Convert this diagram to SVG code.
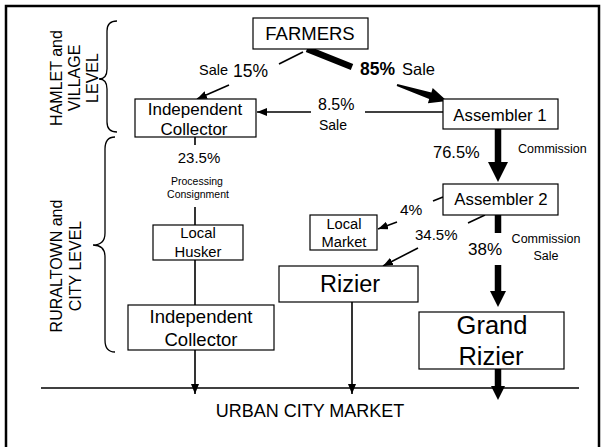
<svg xmlns="http://www.w3.org/2000/svg" width="604" height="447" viewBox="0 0 604 447">
<style>
text{font-family:"Liberation Sans",Arial,sans-serif;fill:#000}
.box{fill:#fff;stroke:#000;stroke-width:1.2}
.thin{stroke:#000;stroke-width:1.6;fill:none}
.thick{stroke:#000;stroke-width:6.5;fill:none}
.brace{stroke:#000;stroke-width:1.3;fill:none}
.c{text-anchor:middle}
</style>
<defs>
<marker id="ah" viewBox="0 0 10 8" refX="10" refY="4" markerWidth="10" markerHeight="8" markerUnits="userSpaceOnUse" orient="auto">
<path d="M0,0 L10,4 L0,8 z" fill="#000"/>
</marker>
</defs>
<rect x="6" y="6" width="593" height="443" fill="#fff" stroke="#000" stroke-width="2.5"/>

<g id="levels">
<path class="brace" d="M117,21 Q107,21 107,31 L107,69 Q107,79 99,79 Q107,79 107,89 L107,122 Q107,132 117,132"/>
<path class="brace" d="M115,137 Q105,137 105,149 L105,233 Q105,245 93,245 Q105,245 105,257 L105,340 Q105,352 115,352"/>
<g transform="translate(80,78) rotate(-90)" font-size="16">
<text class="c" x="0" y="-18">HAMLET and</text>
<text class="c" x="0" y="0">VILLAGE</text>
<text class="c" x="0" y="18">LEVEL</text>
</g>
<g transform="translate(80,266) rotate(-90)" font-size="16">
<text class="c" x="0" y="-18">RURALTOWN and</text>
<text class="c" x="0" y="1">CITY LEVEL</text>
</g>
</g>

<g id="connectors">
<line class="thin" x1="303" y1="52" x2="279" y2="64"/>
<line class="thin" x1="229" y1="85" x2="197" y2="99" marker-end="url(#ah)"/>
<line x1="307" y1="49" x2="352" y2="67" stroke="#000" stroke-width="6.5"/>
<polygon points="396.7,86 397.3,84 431.4,92.4 432.7,88.1 447,101 427.9,103.3 429.2,99"/>
<line class="thin" x1="443" y1="112" x2="365" y2="112"/>
<line class="thin" x1="311" y1="112" x2="257" y2="112" marker-end="url(#ah)"/>
<line class="thick" x1="498" y1="129" x2="498" y2="164"/>
<polygon points="488,162 508,162 498,182"/>
<line class="thin" x1="443" y1="197" x2="433" y2="201"/>
<line class="thin" x1="397" y1="222" x2="378" y2="229" marker-end="url(#ah)"/>
<line class="thin" x1="485" y1="215" x2="468" y2="223"/>
<line class="thin" x1="418" y1="248" x2="383" y2="266" marker-end="url(#ah)"/>
<line class="thick" x1="498" y1="215" x2="498" y2="233"/>
<line class="thick" x1="498" y1="265" x2="498" y2="293"/>
<polygon points="490,291 506,291 498,307"/>
<line class="thick" x1="498" y1="369" x2="498" y2="388"/>
<polygon points="491,386 505,386 498,400"/>
<line class="thin" x1="195" y1="137" x2="195" y2="145" stroke-width="2"/>
<line class="thin" x1="195" y1="207" x2="195" y2="225" stroke-width="2"/>
<line class="thin" x1="195" y1="260" x2="195" y2="305" stroke-width="2"/>
<line class="thin" x1="195" y1="350" x2="195" y2="394" stroke-width="2" marker-end="url(#ah)"/>
<line class="thin" x1="352" y1="302" x2="352" y2="394" stroke-width="2" marker-end="url(#ah)"/>
<line class="thin" x1="41" y1="388" x2="579" y2="388"/>
</g>

<g id="labels">
<text x="199" y="75" font-size="14.5">Sale</text>
<text x="233" y="77" font-size="17.5">15%</text>
<text x="360" y="75" font-size="17.5" font-weight="bold">85%</text>
<text x="402" y="75" font-size="16.5">Sale</text>
<text x="318" y="110" font-size="16">8.5%</text>
<text x="319" y="130" font-size="14">Sale</text>
<text x="433" y="158" font-size="16.5">76.5%</text>
<text x="518" y="153" font-size="12.5">Commission</text>
<text x="400" y="215" font-size="15.5">4%</text>
<text x="415" y="240" font-size="15">34.5%</text>
<text x="468" y="255" font-size="17">38%</text>
<text class="c" x="546" y="243" font-size="12.5">Commission</text>
<text class="c" x="546" y="260" font-size="12.5">Sale</text>
<text class="c" x="199" y="163" font-size="15">23.5%</text>
<text class="c" x="197" y="185" font-size="10.5">Processing</text>
<text class="c" x="198" y="198" font-size="10.5">Consignment</text>
<text class="c" x="310" y="417" font-size="18">URBAN CITY MARKET</text>
</g>

<g id="farmers">
<rect class="box" x="253" y="18" width="115" height="31"/>
<text class="c" x="310" y="40" font-size="18.5">FARMERS</text>
</g>
<g id="collector1">
<rect class="box" x="135" y="99" width="121" height="38"/>
<text class="c" x="195" y="115" font-size="17">Independent</text>
<text class="c" x="194" y="135" font-size="17">Collector</text>
</g>
<g id="assembler1">
<rect class="box" x="443" y="99" width="115" height="30"/>
<text class="c" x="500" y="121" font-size="16.8">Assembler 1</text>
</g>
<g id="assembler2">
<rect class="box" x="443" y="184" width="115" height="31"/>
<text class="c" x="501" y="205" font-size="16.8">Assembler 2</text>
</g>
<g id="localmarket">
<rect class="box" x="310" y="215" width="67" height="35"/>
<text class="c" x="344" y="229" font-size="14.7">Local</text>
<text class="c" x="344" y="247" font-size="14.7">Market</text>
</g>
<g id="husker">
<rect class="box" x="153" y="225" width="90" height="35"/>
<text class="c" x="198" y="238" font-size="14.8">Local</text>
<text class="c" x="198" y="257" font-size="14.8">Husker</text>
</g>
<g id="rizier">
<rect class="box" x="279" y="266" width="139" height="36"/>
<text class="c" x="350" y="292" font-size="23.5">Rizier</text>
</g>
<g id="grandrizier">
<rect class="box" x="419" y="312" width="145" height="57"/>
<text class="c" x="492" y="334" font-size="25.5">Grand</text>
<text class="c" x="491" y="365" font-size="25.5">Rizier</text>
</g>
<g id="collector2">
<rect class="box" x="128" y="305" width="146" height="45"/>
<text class="c" x="201" y="323" font-size="18.5">Independent</text>
<text class="c" x="201" y="346" font-size="18.5">Collector</text>
</g>
</svg>
